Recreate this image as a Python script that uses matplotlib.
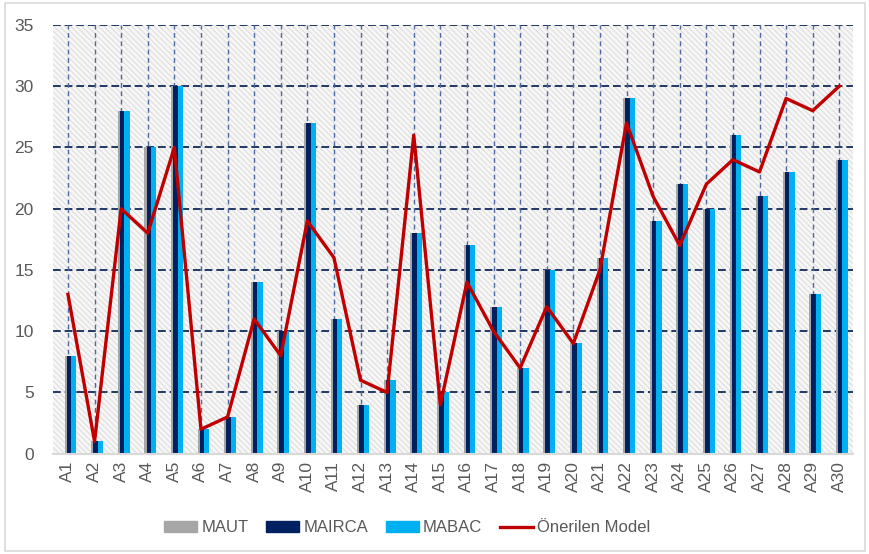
import numpy as np
import matplotlib
matplotlib.use("Agg")
import matplotlib.pyplot as plt
from matplotlib.patches import Rectangle, Patch
from matplotlib.lines import Line2D

plt.rcParams['font.family'] = ['Liberation Sans', 'DejaVu Sans']
plt.rcParams['hatch.linewidth'] = 0.9
plt.rcParams['hatch.color'] = '#e0e0e0'

# Alternatif sıralamaları
labels = ['A%d' % i for i in range(1, 31)]
maut = [8, 1, 28, 25, 30, 2, 3, 14, 10, 27, 11, 4, 6, 18, 5,
        17, 12, 7, 15, 9, 16, 29, 19, 22, 20, 26, 21, 23, 13, 24]
mairca = [8, 1, 28, 25, 30, 2, 3, 14, 10, 27, 11, 4, 6, 18, 5,
          17, 12, 7, 15, 9, 16, 29, 19, 22, 20, 26, 21, 23, 13, 24]
mabac = [8, 1, 28, 25, 30, 2, 3, 14, 10, 27, 11, 4, 6, 18, 5,
         17, 12, 7, 15, 9, 16, 29, 19, 22, 20, 26, 21, 23, 13, 24]
onerilen = [13, 1, 20, 18, 25, 2, 3, 11, 8, 19, 16, 6, 5, 26, 4,
            14, 10, 7, 12, 9, 15, 27, 21, 17, 22, 24, 23, 29, 28, 30]

c_maut = '#a6a6a6'
c_mairca = '#002060'
c_mabac = '#00b0f0'
c_line = '#c00000'
txt = '#595959'

x = np.arange(len(labels))

fig = plt.figure(figsize=(8.7, 5.54), dpi=100)
ax = fig.add_axes([0.061, 0.181, 0.919, 0.774])

# taralı arka plan
ax.add_patch(Rectangle((0, 0), 1, 1, transform=ax.transAxes, facecolor='#f7f7f7',
                       hatch='\\\\\\\\\\\\', edgecolor='#e0e0e0', linewidth=0, zorder=0))

# ızgara
for yv in range(5, 36, 5):
    ax.axhline(yv, color='#203864', lw=1.4, ls=(0, (4, 2)), zorder=1)
for xv in x:
    ax.axvline(xv, color='#4f68a0', lw=1.0, ls=(0, (3.5, 2.5)), zorder=1)

ax.bar(x - 0.04, maut, width=0.17, color=c_maut, zorder=2)
ax.bar(x + 0.038, mairca, width=0.17, color=c_mairca, zorder=3)
ax.bar(x + 0.22, mabac, width=0.2, color=c_mabac, zorder=4)
ax.plot(x, onerilen, color=c_line, lw=2.4, zorder=5)

ax.set_xlim(-0.56, 29.5)
ax.set_ylim(0, 35)
ax.set_yticks(range(0, 36, 5))
ax.set_xticks(x)
ax.set_xticklabels(labels, rotation=90)
ax.tick_params(axis='both', length=0, colors=txt, labelsize=12.5)
ax.tick_params(axis='y', pad=14)
ax.tick_params(axis='x', pad=5)
for s in ['top', 'right', 'left']:
    ax.spines[s].set_visible(False)
ax.spines['bottom'].set_color('#d9d9d9')
ax.spines['bottom'].set_linewidth(1.5)
ax.spines['bottom'].set_zorder(6)

handles = [Patch(color=c_maut), Patch(color=c_mairca), Patch(color=c_mabac),
           Line2D([0], [0], color=c_line, lw=2.4)]
leg = fig.legend(handles, ['MAUT', 'MAIRCA', 'MABAC', 'Önerilen Model'],
                 loc='center', bbox_to_anchor=(0.468, 0.047), ncol=4, frameon=False,
                 fontsize=12, handlelength=2.0, handleheight=0.6,
                 handletextpad=0.25, columnspacing=1.05)
for t in leg.get_texts():
    t.set_color(txt)

# dış çerçeve
fig.patches.append(Rectangle((0.006, 0.006), 0.988, 0.988, transform=fig.transFigure,
                             fill=False, edgecolor='#d9d9d9', lw=1.2))

fig.savefig('out.png', dpi=100)
